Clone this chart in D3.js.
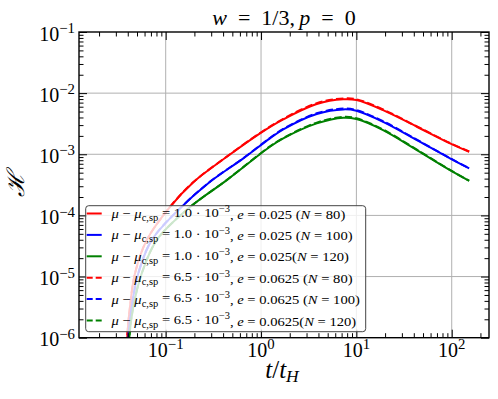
<!DOCTYPE html>
<html>
<head>
<meta charset="utf-8">
<script src="https://cdn.jsdelivr.net/npm/d3@7"></script>
<style>
  body { margin: 0; background: #fff; }
  svg { display: block; font-family: 'Liberation Serif', 'DejaVu Serif', serif; }
  .grid line { stroke: #b0b0b0; stroke-width: 1; }
</style>
</head>
<body>
<svg id="chart" width="498" height="399"></svg>
<script>
// readings, t in units of t_H
const tRed = [0.0390, 0.0395, 0.0422, 0.0476, 0.0632, 0.111, 0.195, 0.437, 0.976, 1.71, 3.84, 7.31, 10, 19.05, 43.1, 95.9, 152.4];
const hRed = [1e-7, 1.0e-6, 3.19e-6, 1.12e-5, 3.94e-5, 1.38e-4, 3.50e-4, 9.1e-4, 2.2e-3, 3.72e-3, 6.64e-3, 7.93e-3, 7.71e-3, 5.28e-3, 2.82e-3, 1.51e-3, 1.10e-3];
const tBlue = [0.0401, 0.0406, 0.0440, 0.0515, 0.0713, 0.141, 0.292, 0.652, 1.24, 1.71, 3.84, 7.31, 10, 19.05, 43.1, 95.9, 152.4];
const hBlue = [1e-7, 1.0e-6, 3.19e-6, 1.12e-5, 3.94e-5, 1.30e-4, 3.55e-4, 8.57e-4, 1.82e-3, 2.55e-3, 4.55e-3, 5.42e-3, 5.15e-3, 3.40e-3, 1.71e-3, 8.57e-4, 5.87e-4];
const tGreen = [0.0410, 0.0415, 0.0457, 0.0560, 0.0805, 0.173, 0.437, 1.24, 1.71, 3.84, 7.31, 10, 19.05, 43.1, 95.9, 152.4];
const hGreen = [1e-7, 1.0e-6, 3.19e-6, 1.12e-5, 3.94e-5, 1.30e-4, 3.78e-4, 1.33e-3, 1.82e-3, 3.20e-3, 3.96e-3, 3.77e-3, 2.49e-3, 1.17e-3, 5.51e-4, 3.68e-4];
// dashed runs sit almost on top of the solid ones, a touch higher near the peak
const hRedDash = [1e-7, 1.0e-6, 3.19e-6, 1.12e-5, 3.94e-5, 1.38e-4, 3.51e-4, 9.15e-4, 2.23e-3, 3.80e-3, 6.85e-3, 8.20e-3, 7.95e-3, 5.40e-3, 2.86e-3, 1.53e-3, 1.11e-3];
const hBlueDash = [1e-7, 1.0e-6, 3.19e-6, 1.12e-5, 3.94e-5, 1.30e-4, 3.57e-4, 8.65e-4, 1.85e-3, 2.60e-3, 4.68e-3, 5.60e-3, 5.30e-3, 3.47e-3, 1.73e-3, 8.65e-4, 5.90e-4];
const hGreenDash = [1e-7, 1.0e-6, 3.19e-6, 1.12e-5, 3.94e-5, 1.30e-4, 3.80e-4, 1.35e-3, 1.85e-3, 3.30e-3, 4.10e-3, 3.88e-3, 2.54e-3, 1.19e-3, 5.55e-4, 3.70e-4];

const muLabels = ['1.0', '1.0', '1.0', '6.5', '6.5', '6.5'];
const eLabels = ['0.025', '0.025', '0.025', '0.0625', '0.0625', '0.0625'];
const nLabels = [' (N = 80)', ' (N = 100)', '(N = 120)', ' (N = 80)', ' (N = 100)', '(N = 120)'];
const seriesColors = ['#ff0000', '#0000ff', '#008000', '#ff0000', '#0000ff', '#008000'];
const xTickExps = [-1, 0, 1, 2];
const yTickExps = [-6, -5, -4, -3, -2, -1];

const zip = (ts, hs) => ts.map((t, i) => [t, hs[i]]);
const seriesData = [
    {pts: zip(tRed, hRed), dashed: false},
    {pts: zip(tBlue, hBlue), dashed: false},
    {pts: zip(tGreen, hGreen), dashed: false},
    {pts: zip(tRed, hRedDash), dashed: true},
    {pts: zip(tBlue, hBlueDash), dashed: true},
    {pts: zip(tGreen, hGreenDash), dashed: true},
];

const svg = d3.select('#chart');
const margin = {left: 79, right: 9, top: 32, bottom: 61.3};
const width = 498 - margin.left - margin.right;
const height = 399 - margin.top - margin.bottom;

const x = d3.scaleLog().domain([0.01232, 246]).range([0, width]);
const y = d3.scaleLog().domain([1e-6, 1e-1]).range([height, 0]);

const g = svg.append('g').attr('transform', `translate(${margin.left},${margin.top})`);

svg.append('defs').append('clipPath').attr('id', 'plot-clip')
    .append('rect').attr('width', width).attr('height', height);

// grid at the decades
const gridGroup = g.append('g').attr('class', 'grid');
gridGroup.selectAll('line.gx')
    .data(xTickExps)
    .enter().append('line')
    .attr('x1', e => x(10 ** e)).attr('x2', e => x(10 ** e))
    .attr('y1', 0).attr('y2', height);
gridGroup.selectAll('line.gy')
    .data(yTickExps.filter(e => e > -6 && e < -1))
    .enter().append('line')
    .attr('y1', e => y(10 ** e)).attr('y2', e => y(10 ** e))
    .attr('x1', 0).attr('x2', width);

// curves
const line = d3.line()
    .x(d => x(d[0]))
    .y(d => y(d[1]))
    .curve(d3.curveCatmullRom.alpha(0.5));

const curveGroup = g.append('g').attr('clip-path', 'url(#plot-clip)');
curveGroup.selectAll('path')
    .data(seriesData)
    .enter().append('path')
    .attr('d', s => line(s.pts))
    .attr('fill', 'none')
    .attr('stroke', (s, i) => seriesColors[i])
    .attr('stroke-width', 2)
    .attr('stroke-linejoin', 'round')
    .attr('stroke-dasharray', s => s.dashed ? '7.4,3.2' : null);

// ticks on all four sides, pointing inward
const isDecade = v => Math.abs(Math.log10(v) - Math.round(Math.log10(v))) < 1e-6;
const xMinor = x.ticks().filter(v => !isDecade(v));
const yMinor = y.ticks().filter(v => !isDecade(v));
const xMajor = xTickExps.map(e => 10 ** e);
const yMajor = yTickExps.map(e => 10 ** e);
const majorLen = 8, minorLen = 4.5;

const addAxis = (axisFn, scale, major, minor, transform) => {
    const ag = g.append('g').attr('transform', transform);
    ag.call(axisFn(scale).tickValues(major).tickSize(majorLen).tickFormat(''));
    ag.append('g').call(axisFn(scale).tickValues(minor).tickSize(minorLen).tickFormat(''));
    ag.selectAll('.domain').remove();
    ag.selectAll('line').attr('stroke', '#000').attr('stroke-width', 1);
};
addAxis(d3.axisTop, x, xMajor, xMinor, `translate(0,${height})`);
addAxis(d3.axisBottom, x, xMajor, xMinor, 'translate(0,0)');
addAxis(d3.axisRight, y, yMajor, yMinor, 'translate(0,0)');
addAxis(d3.axisLeft, y, yMajor, yMinor, `translate(${width},0)`);

g.append('rect')
    .attr('width', width).attr('height', height)
    .attr('fill', 'none').attr('stroke', '#000').attr('stroke-width', 1.4);

// tick labels as 10^n
const powerLabel = (sel, e) => {
    sel.append('tspan').text('10');
    sel.append('tspan').attr('dy', '-0.5em').attr('font-size', '0.74em')
        .text(String(e).replace('-', '\u2212'));
};
xTickExps.forEach(e => {
    g.append('text')
        .attr('x', x(10 ** e)).attr('y', height + 19)
        .attr('text-anchor', 'middle').attr('font-size', 20)
        .call(powerLabel, e);
});
yTickExps.forEach(e => {
    g.append('text')
        .attr('x', -4).attr('y', y(10 ** e) + 8.5)
        .attr('text-anchor', 'end').attr('font-size', 20)
        .call(powerLabel, e);
});

// title and axis labels
const title = svg.append('text')
    .attr('x', margin.left + width / 2).attr('y', 25)
    .attr('text-anchor', 'middle').attr('font-size', 22);
title.append('tspan').attr('font-style', 'italic').text('w');
title.append('tspan').text('\u2002=\u20021/3,\u2009');
title.append('tspan').attr('font-style', 'italic').text('p');
title.append('tspan').text('\u2002=\u20020');

const xLabel = svg.append('text')
    .attr('x', 282).attr('y', 378)
    .attr('text-anchor', 'middle').attr('font-size', 25);
xLabel.append('tspan').attr('font-style', 'italic').text('t');
xLabel.append('tspan').text('/');
xLabel.append('tspan').attr('font-style', 'italic').text('t');
xLabel.append('tspan').attr('font-style', 'italic').attr('font-size', '0.7em').attr('dy', '0.25em').text('H');

svg.append('text')
    .attr('transform', `translate(24,${margin.top + height / 2}) rotate(-90)`)
    .attr('text-anchor', 'middle').attr('font-size', 24)
    .attr('font-family', 'DejaVu Serif, serif')
    .attr('font-style', 'italic')
    .text('\u210B');

// legend
const legendX = 85.7, legendY = 205.7, legendW = 280, legendH = 126;
const rowY0 = 213.5, rowStep = 21.4, textX = 111.5;
const legend = svg.append('g');
legend.append('rect')
    .attr('x', legendX).attr('y', legendY)
    .attr('width', legendW).attr('height', legendH)
    .attr('rx', 3).attr('ry', 3)
    .attr('fill', '#fff').attr('fill-opacity', 0.8)
    .attr('stroke', '#444').attr('stroke-width', 1);

const legendTexts = seriesColors.map((color, i) => {
    const yy = rowY0 + i * rowStep;
    legend.append('line')
        .attr('x1', legendX + 1).attr('x2', legendX + 16)
        .attr('y1', yy).attr('y2', yy)
        .attr('stroke', color).attr('stroke-width', 2)
        .attr('stroke-dasharray', i >= 3 ? '6,3' : null);
    const txt = legend.append('text')
        .attr('x', textX).attr('y', yy + 4.5)
        .attr('font-size', 13.5);
    txt.append('tspan').attr('font-style', 'italic').text('\u03BC');
    txt.append('tspan').text(' \u2212 ');
    txt.append('tspan').attr('font-style', 'italic').text('\u03BC');
    txt.append('tspan').attr('font-size', '0.72em').attr('dy', '0.3em').text('c,sp');
    txt.append('tspan').attr('dy', '-0.3em').text(` = ${muLabels[i]} \u00B7 10`);
    txt.append('tspan').attr('font-size', '0.72em').attr('dy', '-0.45em').text('\u22123');
    txt.append('tspan').attr('dy', '0.45em').text(', ');
    txt.append('tspan').attr('font-style', 'italic').text('e');
    txt.append('tspan').text(` = ${eLabels[i]}`);
    const nParts = nLabels[i].split('N');
    txt.append('tspan').text(nParts[0]);
    txt.append('tspan').attr('font-style', 'italic').text('N');
    txt.append('tspan').text(nParts[1]);
    return txt;
});
// one common stretch, set by the longest row (ends near x = 361 in the reference)
const longest = d3.max(legendTexts, t => t.node().getBBox().width);
const legendScale = (361 - textX) / longest;
legendTexts.forEach(t => t.attr('transform', `translate(${textX},0) scale(${legendScale},1) translate(${-textX},0)`));
</script>
</body>
</html>
